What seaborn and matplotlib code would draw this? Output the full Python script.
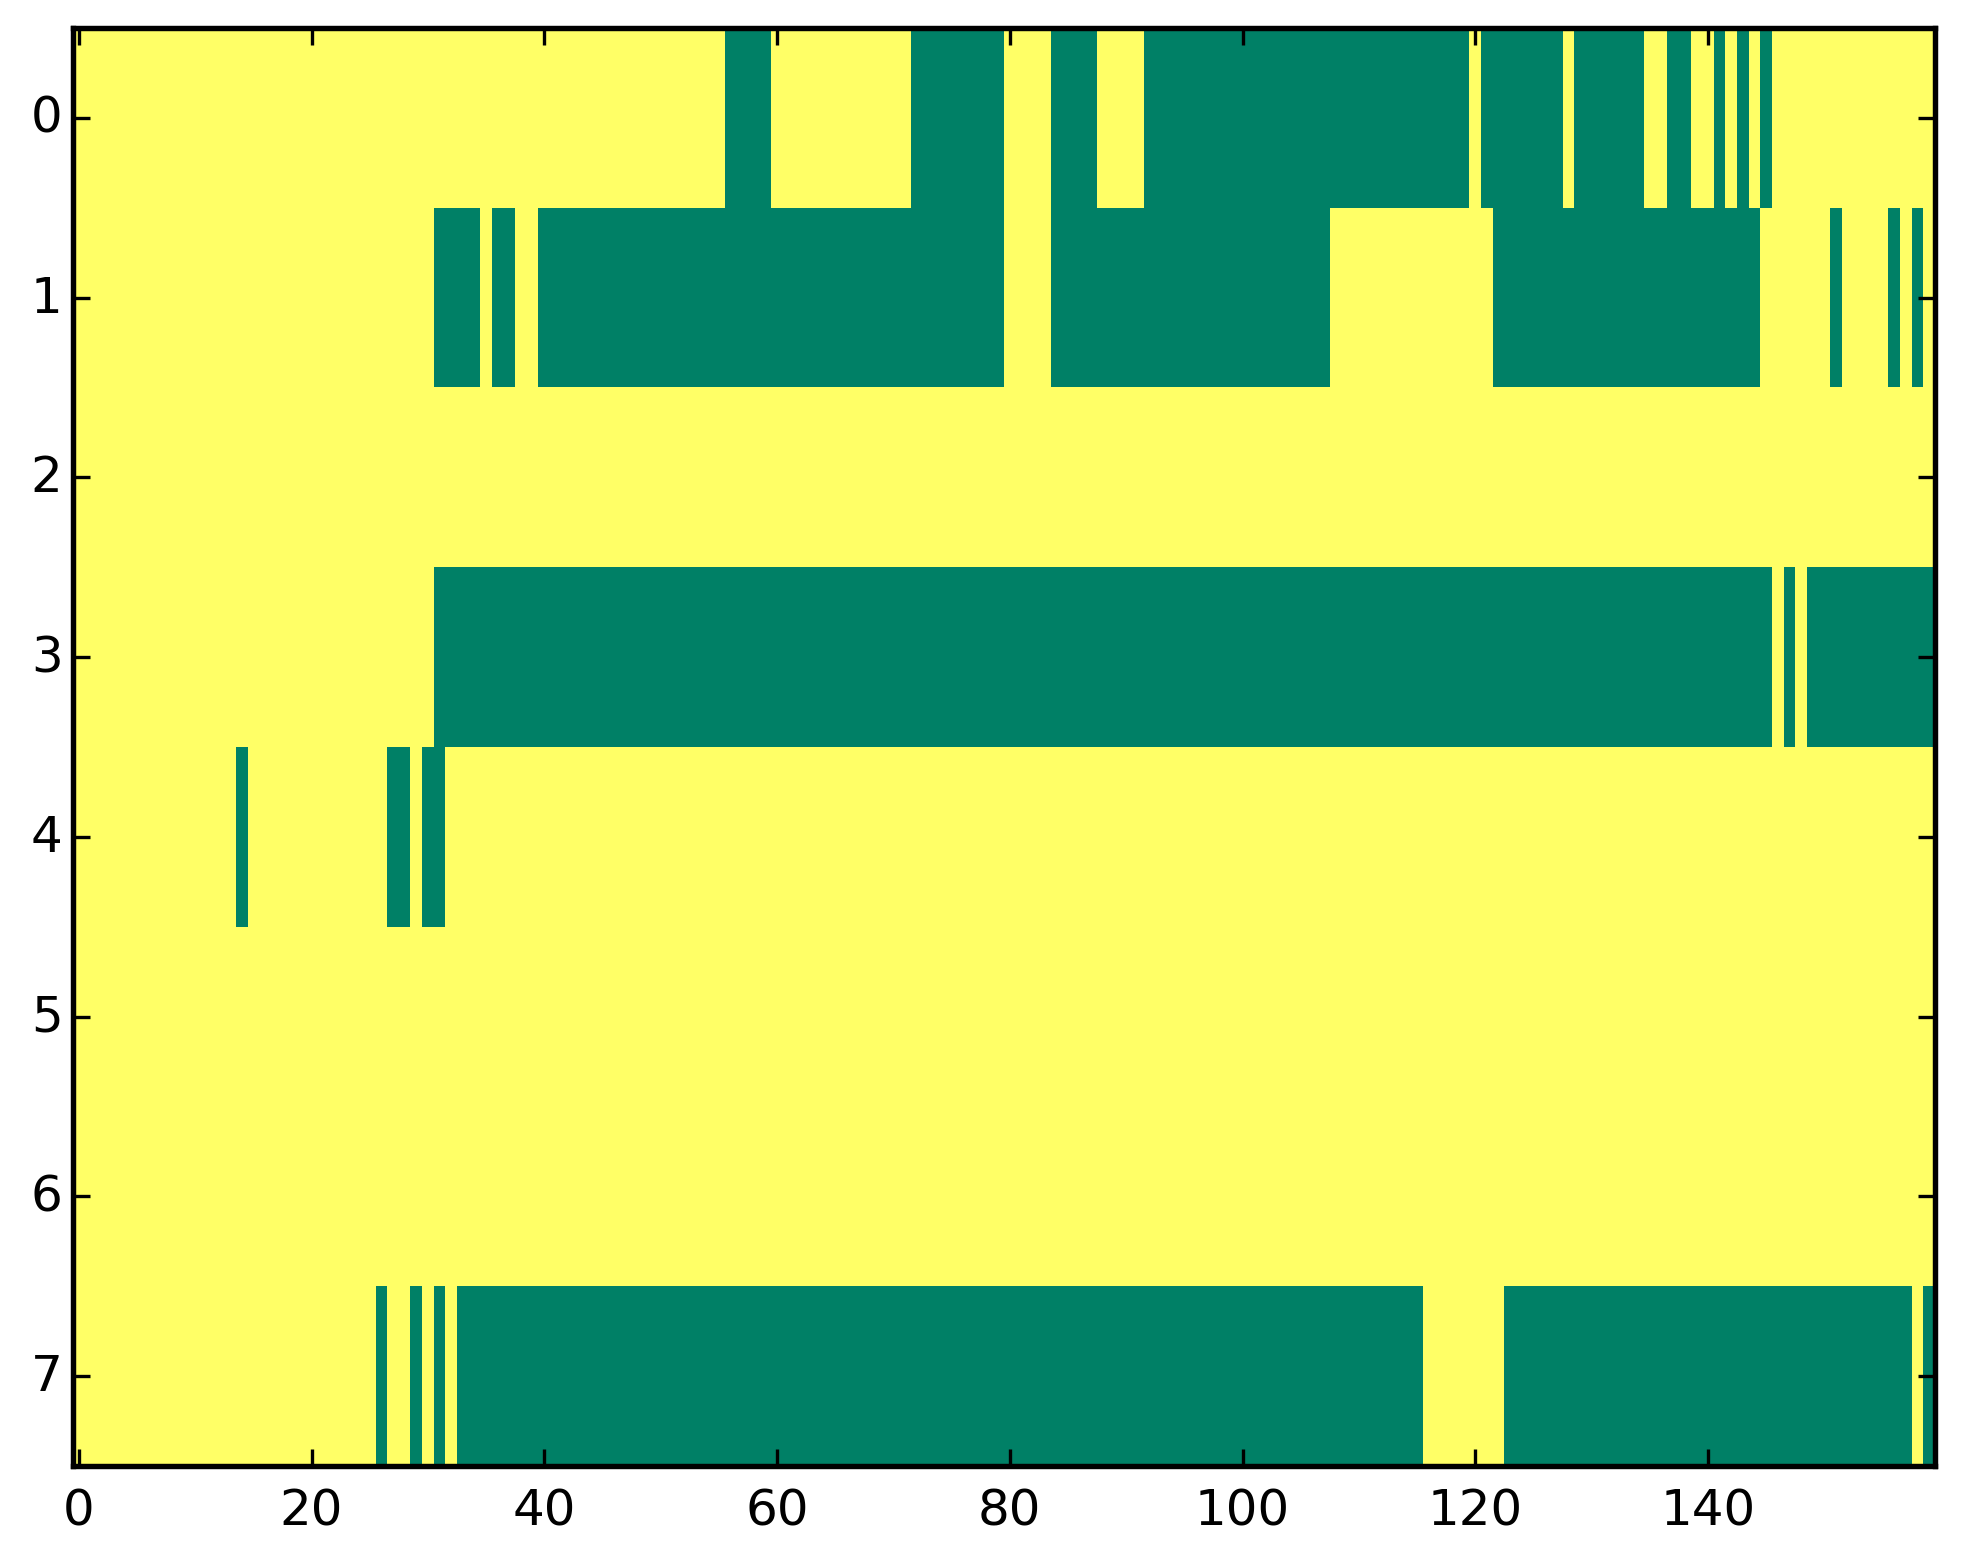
import numpy as np
import pandas as pd
import matplotlib
matplotlib.use("Agg")
import matplotlib.pyplot as plt
import seaborn as sns

# number of columns / rows in the matrix
n_cols = 160
row_ids = list(range(8))

# green (value 0) runs per row, inclusive column ranges; everything else is 1
row0_zero = [(56, 59), (72, 79), (84, 87), (92, 119), (121, 127), (129, 134),
             (137, 138), (141, 141), (143, 143), (145, 145)]
row1_zero = [(31, 34), (36, 37), (40, 79), (84, 107), (122, 144),
             (151, 151), (156, 156), (158, 158)]
row2_zero = []
row3_zero = [(31, 145), (147, 147), (149, 159)]
row4_zero = [(14, 14), (27, 28), (30, 31)]
row5_zero = []
row6_zero = []
row7_zero = [(26, 26), (29, 29), (31, 31), (33, 115), (123, 157), (159, 159)]

zero_runs = [row0_zero, row1_zero, row2_zero, row3_zero,
             row4_zero, row5_zero, row6_zero, row7_zero]

xtick_vals = [0, 20, 40, 60, 80, 100, 120, 140]

# build the matrix
mat = np.ones((len(row_ids), n_cols))
for r, runs in enumerate(zero_runs):
    for a, b in runs:
        mat[r, a:b + 1] = 0
df = pd.DataFrame(mat, index=row_ids)

plt.style.use("classic")
fig = plt.figure(figsize=(1963 / 300, 1564 / 300), dpi=300)
ax = fig.add_axes([0.0372, 0.0620, 0.9485, 0.9195])

sns.heatmap(df, cmap="summer", vmin=0, vmax=1, cbar=False, ax=ax)

# classic-looking axes: ticks in on all sides, full frame
ax.set_xticks(np.array(xtick_vals) + 0.5)
ax.set_xticklabels([str(v) for v in xtick_vals], rotation=0)
ax.set_yticks(np.array(row_ids) + 0.5)
ax.set_yticklabels([str(v) for v in row_ids], rotation=0)
ax.tick_params(direction="in", top=True, right=True, length=4, width=0.8,
               labelsize=12, colors="black")
ax.tick_params(axis="x", pad=5)
ax.tick_params(axis="y", pad=2.5)
for s in ax.spines.values():
    s.set_visible(True)
    s.set_linewidth(1.3)
    s.set_color("black")
ax.set_xlabel("")
ax.set_ylabel("")

fig.savefig("out.png", dpi=300)
